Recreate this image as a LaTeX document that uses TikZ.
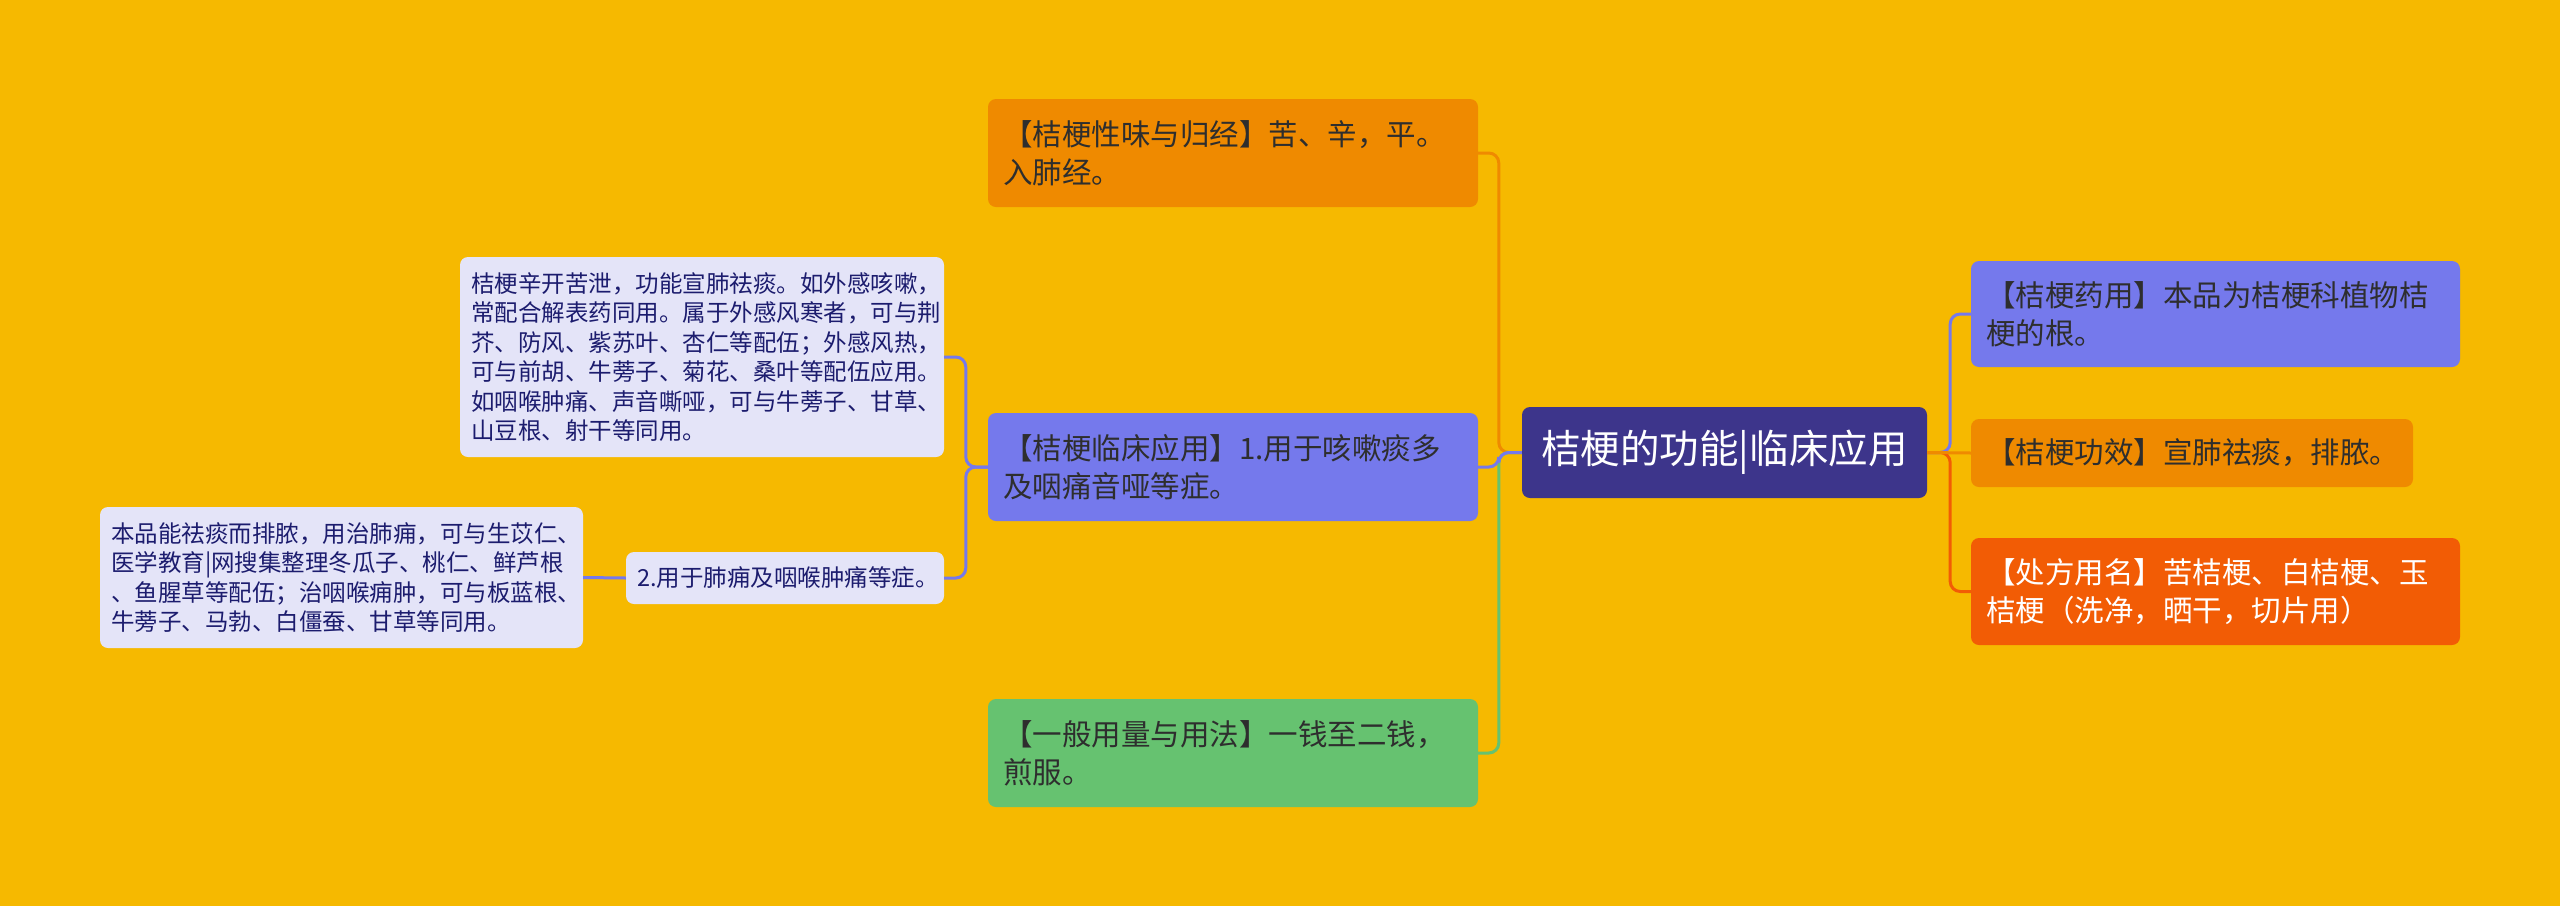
\documentclass[tikz,border=0pt]{standalone}
\usepackage{fontspec}
\setmainfont{Noto Sans CJK SC}
\definecolor{bg}{HTML}{F6B900}
\definecolor{orgC}{HTML}{EF8A00}
\definecolor{purC}{HTML}{7579EC}
\definecolor{lavC}{HTML}{E4E4F8}
\definecolor{rootC}{HTML}{3D358B}
\definecolor{grnC}{HTML}{66C270}
\definecolor{redC}{HTML}{F25C05}
\definecolor{txtD}{HTML}{2E2E2E}
\definecolor{txtN}{HTML}{1C1C6E}
\begin{document}
\begin{tikzpicture}[x=1pt,y=-1pt]
\tikzset{
  bx/.style={rectangle, rounded corners=8pt, inner ysep=0pt, align=left, anchor=center},
  bigtxt/.style={font=\fontsize{29.5}{38}\selectfont, text=txtD, inner xsep=15pt},
  smalltxt/.style={font=\fontsize{23.5}{29.5}\selectfont, text=txtN, fill=lavC, inner xsep=11pt},
  con/.style={line width=3pt, rounded corners=10pt},
}
\fill[bg] (0,0) rectangle (2560,906);
\useasboundingbox (0,0) rectangle (2560,906);

% root
\node[bx, fill=rootC, text=white, align=center, minimum width=405pt, minimum height=91pt,
  font=\fontsize{39.5}{44}\selectfont] (root) at (1724.5,452.5) {桔梗的功能|临床应用};

% left level-1
\node[bx, bigtxt, fill=orgC, minimum width=490pt, minimum height=108pt, text width=460pt] (xw) at (1233,153)
  {【桔梗性味与归经】苦、辛，平。\\入肺经。};
\node[bx, bigtxt, fill=purC, minimum width=490pt, minimum height=108pt, text width=460pt] (lc) at (1233,467)
  {【桔梗临床应用】1.用于咳嗽痰多\\及咽痛音哑等症。};
\node[bx, bigtxt, fill=grnC, minimum width=490pt, minimum height=108pt, text width=460pt] (yl) at (1233,753)
  {【一般用量与用法】一钱至二钱，\\煎服。};

% left level-2
\node[bx, smalltxt, minimum width=484pt, minimum height=200pt, text width=462pt] (d1) at (702,357)
  {桔梗辛开苦泄，功能宣肺祛痰。如外感咳嗽，\\常配合解表药同用。属于外感风寒者，可与荆\\芥、防风、紫苏叶、杏仁等配伍；外感风热，\\可与前胡、牛蒡子、菊花、桑叶等配伍应用。\\如咽喉肿痛、声音嘶哑，可与牛蒡子、甘草、\\山豆根、射干等同用。};
\node[bx, smalltxt, minimum width=318pt, minimum height=52pt, text width=296pt] (d2) at (785,578)
  {2.用于肺痈及咽喉肿痛等症。};
\node[bx, smalltxt, minimum width=483pt, minimum height=141pt, text width=461pt] (d3) at (341.5,577.5)
  {本品能祛痰而排脓，用治肺痈，可与生苡仁、\\医学教育|网搜集整理冬瓜子、桃仁、鲜芦根\\、鱼腥草等配伍；治咽喉痈肿，可与板蓝根、\\牛蒡子、马勃、白僵蚕、甘草等同用。};

% right level-1
\node[bx, bigtxt, fill=purC, minimum width=489pt, minimum height=106pt, text width=459pt] (yy) at (2215.5,314)
  {【桔梗药用】本品为桔梗科植物桔\\梗的根。};
\node[bx, bigtxt, fill=orgC, minimum width=442pt, minimum height=68pt, text width=412pt] (gx) at (2192,453)
  {【桔梗功效】宣肺祛痰，排脓。};
\node[bx, bigtxt, fill=redC, text=white, minimum width=489pt, minimum height=107pt, text width=459pt] (cf) at (2215.5,591.5)
  {【处方用名】苦桔梗、白桔梗、玉\\桔梗（洗净，晒干，切片用）};

% connectors left
\draw[con, orgC] (root.west) -- ++(-23,0) |- (xw.east);
\draw[con, grnC] (root.west) -- ++(-23,0) |- (yl.east);
\draw[con, purC] (root.west) -- ++(-23,0) |- (lc.east);
\draw[con, purC] (lc.west) -- ++(-22,0) |- (d1.east);
\draw[con, purC] (lc.west) -- ++(-22,0) |- (d2.east);
\draw[con, purC] (d2.west) -- (d3.east);

% connectors right
\draw[con, purC] (root.east) -- ++(23,0) |- (yy.west);
\draw[con, redC] (root.east) -- ++(23,0) |- (cf.west);
\draw[con, orgC] (root.east) -- (gx.west);
\end{tikzpicture}
\end{document}
